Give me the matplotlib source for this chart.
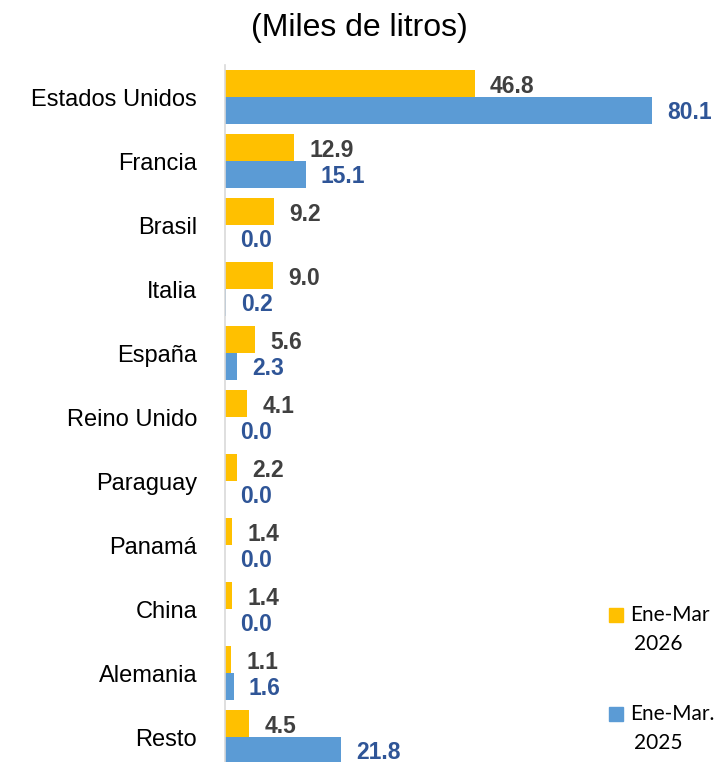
import matplotlib
matplotlib.use("Agg")
import matplotlib.pyplot as plt
from matplotlib.patches import Rectangle

categories = ["Estados Unidos", "Francia", "Brasil", "Italia", "España", "Reino Unido",
              "Paraguay", "Panamá", "China", "Alemania", "Resto"]
values_2026 = [46.8, 12.9, 9.2, 9.0, 5.6, 4.1, 2.2, 1.4, 1.4, 1.1, 4.5]
values_2025 = [80.1, 15.1, 0.0, 0.2, 2.3, 0.0, 0.0, 0.0, 0.0, 1.6, 21.8]
series_names = ["Ene-Mar\n2026", "Ene-Mar.\n2025"]
title = "(Miles de litros)"

GOLD = "#FFC000"
BLUE = "#5B9BD5"
LBL26 = "#404040"
LBL25 = "#2F5597"

W, H = 721, 762
fig = plt.figure(figsize=(W / 100, H / 100), dpi=100)
plt.rcParams['font.family'] = ['Liberation Sans', 'DejaVu Sans']

ax = fig.add_axes([225 / W, 0, 1 - 225 / W, (H - 65) / H])
pos = list(range(len(categories)))
bh = 0.42
y26 = [p - bh / 2 for p in pos]
y25 = [p + bh / 2 for p in pos]
ax.barh(y26, values_2026, height=bh, color=GOLD)
ax.barh(y25, values_2025, height=bh, color=BLUE)

for y, v in zip(y26, values_2026):
    ax.annotate(f"{v:.1f}", (v, y), xytext=(11, -2.0), textcoords="offset points",
                ha="left", va="center", fontsize=16.5, fontweight="bold", color=LBL26)
for y, v in zip(y25, values_2025):
    ax.annotate(f"{v:.1f}", (v, y), xytext=(11, -1.2), textcoords="offset points",
                ha="left", va="center", fontsize=16.5, fontweight="bold", color=LBL25)

ax.set_xlim(0, 93.0)
ax.set_ylim(10.39, -0.5)
ax.set_yticks(pos)
ax.set_yticklabels(categories, fontsize=17)
ax.tick_params(axis="y", length=0, pad=20)
ax.set_xticks([])
for s in ["top", "right", "bottom"]:
    ax.spines[s].set_visible(False)
ax.spines["left"].set_color("#D9D9D9")
ax.spines["left"].set_linewidth(1.2)

fig.text(359 / W, 1 - 28 / H, title, ha="center", va="center", fontsize=23)

# legend
leg_colors = [GOLD, BLUE]
leg_y = [615, 714]
for name, c, yc in zip(series_names, leg_colors, leg_y):
    fig.patches.append(Rectangle((609 / W, 1 - (yc + 7) / H), 14 / W, 14 / H,
                                 transform=fig.transFigure, color=c))
    l1, l2 = name.split("\n")
    fig.text(630 / W, 1 - yc / H, l1, ha="left", va="center", fontsize=15,
             family=["Lato", "DejaVu Sans"], color="#000000")
    fig.text(634 / W, 1 - (yc + 29) / H, l2, ha="left", va="center", fontsize=15,
             family=["Lato", "DejaVu Sans"], color="#000000")

fig.savefig("out.png", dpi=100)
